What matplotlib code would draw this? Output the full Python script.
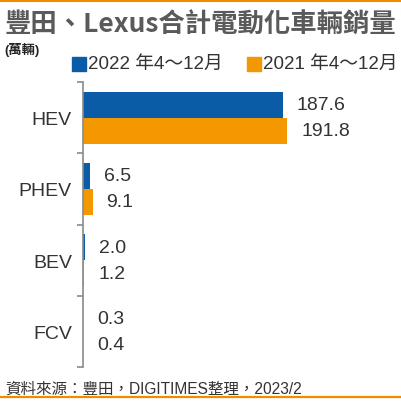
import numpy as np
import matplotlib.pyplot as plt
from matplotlib.lines import Line2D

plt.rcParams["font.family"] = ["Liberation Sans", "Noto Sans CJK TC", "DejaVu Sans"]

# data (萬輛)
categories = ["HEV", "PHEV", "BEV", "FCV"]
sales_2022 = [187.6, 6.5, 2.0, 0.3]
sales_2021 = [191.8, 9.1, 1.2, 0.4]
label_2022 = "2022 年4～12月"
label_2021 = "2021 年4～12月"

C_BLUE = "#0a5ca6"
C_ORANGE = "#f39800"
C_TEXT = "#333333"
C_AXIS = "#8a8a8a"

W, H = 401, 406
fig = plt.figure(figsize=(W / 100, H / 100), dpi=100)

# axes placed in pixel terms
ax_l, ax_r, ax_t, ax_b = 83, 296, 83, 368
ax = fig.add_axes([ax_l / W, 1 - ax_b / H, (ax_r - ax_l) / W, (ax_b - ax_t) / H])

y = np.arange(len(categories))
bh = 0.365
ax.barh(y - bh / 2, sales_2022, height=bh, color=C_BLUE)
ax.barh(y + bh / 2, sales_2021, height=bh, color=C_ORANGE)

for yi, v in zip(y, sales_2022):
    ax.annotate(f"{v:.1f}", (v, yi - bh / 2), xytext=(10, 0), textcoords="offset points",
                va="center", ha="left", fontsize=14, color=C_TEXT)
for yi, v in zip(y, sales_2021):
    ax.annotate(f"{v:.1f}", (v, yi + bh / 2), xytext=(10, 0), textcoords="offset points",
                va="center", ha="left", fontsize=14, color=C_TEXT)

ax.set_xlim(0, 200)
ax.set_ylim(len(categories) - 0.5, -0.5)
ax.set_xticks([])
ax.set_yticks(y)
ax.set_yticklabels(categories, fontsize=14, color=C_TEXT)
ax.set_yticks(np.arange(-0.5, len(categories), 1.0), minor=True)
ax.tick_params(axis="y", which="major", length=0, pad=8)
ax.tick_params(axis="y", which="minor", length=4, width=1.2, color=C_AXIS, direction="out")
for s in ["top", "right", "bottom"]:
    ax.spines[s].set_visible(False)
ax.spines["left"].set_color(C_AXIS)
ax.spines["left"].set_linewidth(1.2)
ax.patch.set_alpha(0)

# frame lines, title, unit, legend, source
fig.add_artist(Line2D([0, 1], [1 - 1.2 / H, 1 - 1.2 / H], color="#f08c00", lw=2.2))
fig.add_artist(Line2D([0, 1], [1 - 398 / H, 1 - 398 / H], color="#f08c00", lw=1.6))

fig.text(5 / W, 1 - 25 / H, "豐田、Lexus合計電動化車輛銷量", fontsize=19, color="#5a5a5a",
         va="center", ha="left", fontweight="bold",
         family=["Noto Sans CJK TC", "DejaVu Sans"])
fig.text(4 / W, 1 - 50 / H, "(萬輛)", fontsize=9.5, color="#222222", va="center", ha="left",
         fontweight="bold", family=["Liberation Sans", "Noto Sans CJK TC"])

for x0, col, lab in [(72, C_BLUE, label_2022), (247, C_ORANGE, label_2021)]:
    fig.patches.append(plt.Rectangle((x0 / W, 1 - 72 / H), 14 / W, 14 / H,
                                     transform=fig.transFigure, color=col))
    fig.text((x0 + 16) / W, 1 - 64 / H, lab, fontsize=13.5, color=C_TEXT,
             va="center", ha="left")

fig.text(5 / W, 1 - 389 / H, "資料來源：豐田，DIGITIMES整理，2023/2", fontsize=11.2,
         color=C_TEXT, va="center", ha="left")

fig.savefig("out.png", dpi=100)
